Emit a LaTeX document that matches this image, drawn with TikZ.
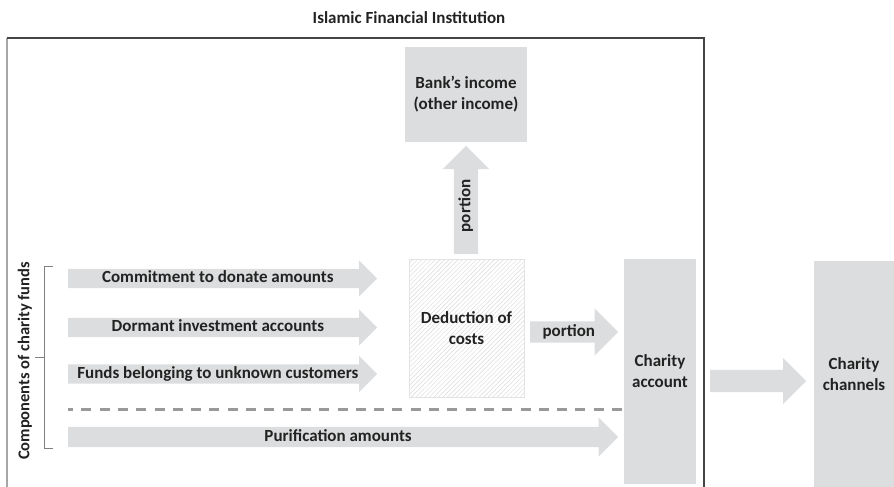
\documentclass[tikz,border=0pt]{standalone}
\usepackage{fontspec}
\setmainfont{Carlito}
\usetikzlibrary{shapes.arrows,patterns.meta}

\definecolor{boxgray}{HTML}{DCDDDE}
\definecolor{txtgray}{HTML}{222222}
\definecolor{framegray}{HTML}{444444}
\definecolor{dashgray}{HTML}{999999}

\tikzset{
  every node/.style={font=\fontsize{17}{21}\selectfont\bfseries, text=txtgray},
  grbox/.style={fill=boxgray, align=center, inner sep=0pt},
  flowarrow/.style={single arrow, fill=boxgray, single arrow tip angle=90,
    single arrow head extend=8.5pt, text height=12pt, text depth=3.5pt,
    inner ysep=1.75pt, inner xsep=2pt, minimum width=0pt, anchor=tail},
  dashline/.style={draw=dashgray, line width=3pt, dash pattern=on 10pt off 8.3pt, dash phase=5pt},
}

\begin{document}
\begin{tikzpicture}[x=1pt,y=-1pt]
\useasboundingbox (0,0) rectangle (894,487);
\node (title) at (409,18) {Islamic Financial Institution};
% frame of the institution
\draw[line width=1.2pt, gray!70] (7,487) -- (7,38);
\draw[line width=1.2pt, framegray] (7,38) -- (704,38) -- (704,487);
% boxes
\node[grbox, minimum width=122pt, minimum height=95pt] (bank) at (466,94.5) {Bank’s income\\(other income)};
\node[grbox, fill=none, draw=gray!22, pattern={Lines[angle=45,distance=3.2pt,line width=0.45pt]},
  pattern color=gray!30, minimum width=115pt, minimum height=138pt] (ded) at (466.5,328) {Deduction of\\costs};
\node[grbox, minimum width=72pt, minimum height=225pt] (chacc) at (660,371.5) {Charity\\account};
\node[grbox, minimum width=80pt, minimum height=226pt] (chch) at (854,374) {Charity\\channels};
% components
\node[rotate=90, font=\fontsize{16.5}{20}\selectfont\bfseries] (comp) at (25,361) {Components of charity funds};
\draw[gray, line width=1pt] (53,266) -| (44,448) -- (53,448);
\draw[gray, line width=1pt] (44,357) -- (35,357);
\node[flowarrow, minimum height=309pt] (cda) at (68,278.5) {Commitment to donate amounts};
\node[flowarrow, minimum height=309pt] (dia) at (68,327.5) {Dormant investment accounts};
\node[flowarrow, minimum height=309pt] (fuc) at (68,374) {Funds belonging to unknown customers};
\coordinate (dash) at (68,409);
\draw[dashline] (dash) -- (dash -| chacc.west);
\node[flowarrow, minimum height=550pt, single arrow head extend=9.5pt, inner ysep=2.25pt] (pur) at (68,437) {Purification amounts};
% portions
\node[flowarrow, rotate=90, minimum height=108pt, single arrow head extend=11pt, inner ysep=4.25pt] (up) at (466,254) {portion};
\node[flowarrow, minimum height=88pt, single arrow head extend=13pt, inner ysep=2.75pt] (port) at (530,332) {portion};
\node[flowarrow, minimum height=96pt, single arrow head extend=12pt, inner ysep=3.25pt] (out) at (710,381) {};
\end{tikzpicture}
\end{document}
